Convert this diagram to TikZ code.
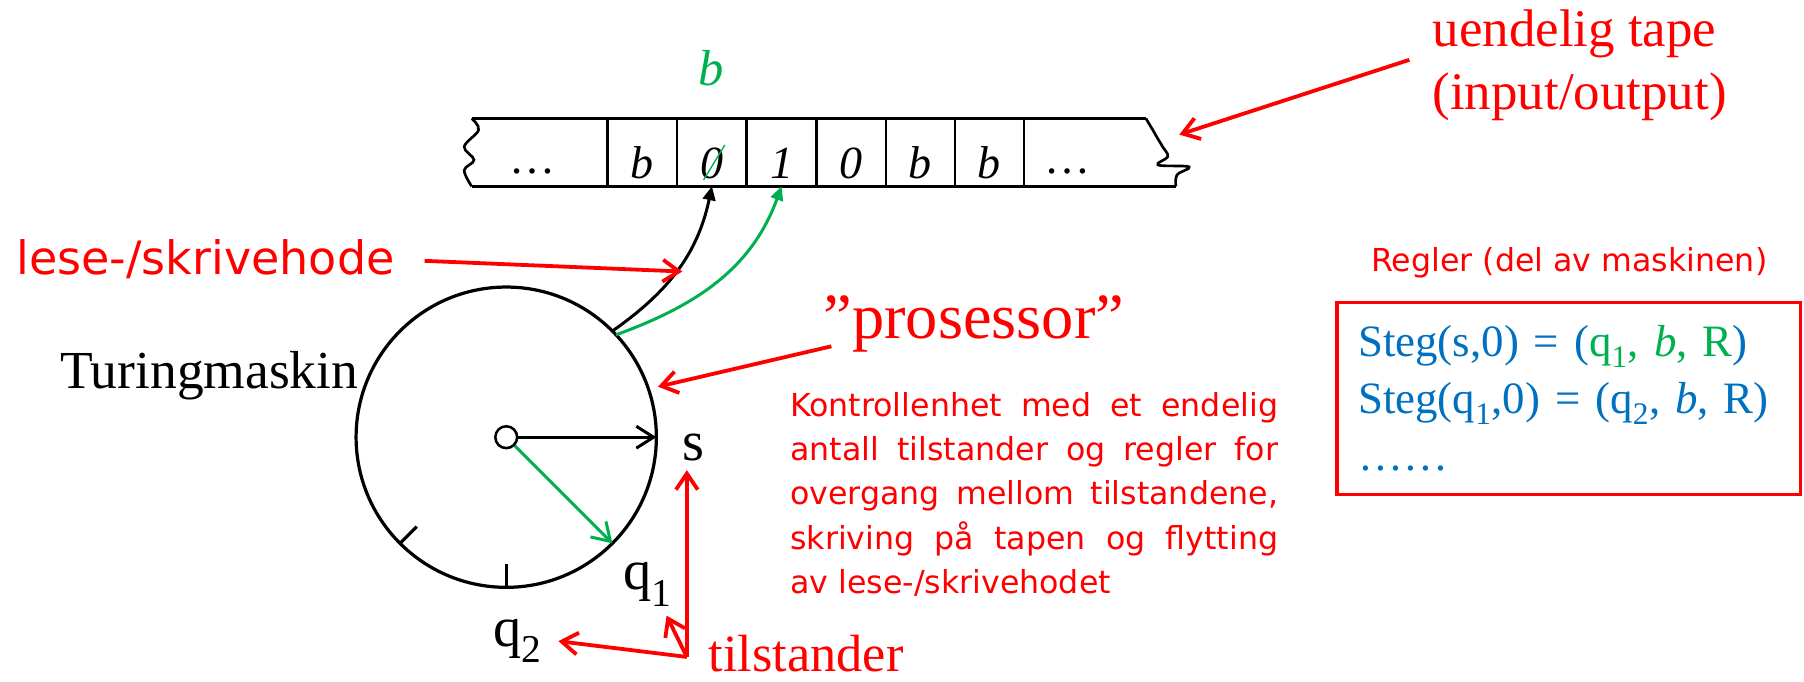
\documentclass[tikz,border=0pt]{standalone}
\usepackage{fontspec}
\setmainfont{Liberation Serif}
\newfontfamily\tahoma{DejaVu Sans}
\usetikzlibrary{arrows.meta}
\usetikzlibrary{calc}
\definecolor{pptred}{RGB}{255,0,0}
\definecolor{pptgreen}{RGB}{0,176,80}
\definecolor{pptblue}{RGB}{0,112,192}
\newcommand{\fsz}[2]{\fontsize{#1}{#2}\selectfont}

\begin{document}
\begin{tikzpicture}[x=1pt,y=1pt,
  lab/.style={inner sep=0pt},
  sym/.style={inner sep=0pt,anchor=base,font=\fsz{40}{48}},
  tapeline/.style={line width=2.3pt},
  redarr/.style={-{Straight Barb[length=14pt,width=19pt]},line width=3.3pt,pptred},
  radarr/.style={-{Straight Barb[length=15pt,width=19pt]},line width=2.6pt},
  curvarr/.style={-{Triangle[length=12pt,width=11pt]},line width=2.6pt}]
\useasboundingbox (0,0) rectangle (1568,592);
\def\tapetop{489};
\def\tapebot{430};
% draw tape
\draw[tapeline] (410,\tapetop) -- (996,\tapetop);
\draw[tapeline] (410,\tapebot) -- (1022,\tapebot);
\foreach \x in {528,588.5,649,709.5,770,830,890}
  \draw[tapeline] (\x,\tapetop) -- (\x,\tapebot);
% torn ends of the tape
\draw[tapeline] plot[smooth,tension=0.6] coordinates {(410,489) (416,479) (403.5,464.5) (412,453) (403.5,444) (410,430)};
\draw[tapeline] plot[smooth,tension=0.6] coordinates {(996,489) (1002,479) (1006,472) (1010.5,464.5) (1015,456) (1006.5,448.6) (1033.5,447) (1023,440) (1022,430)};
\coordinate (bot) at (0,\tapebot);
% symbols on the tape
\node[sym] (dl) at (463,441) {…};
\node[sym] (cb1) at (558.3,437) {\textit{b}};
\node[sym] (c0a) at (618.8,437) {\textit{0}};
\node[sym] (c1) at (679.3,437) {\textit{1}};
\node[sym] (c0b) at (739.8,437) {\textit{0}};
\node[sym] (cb2) at (800,437) {\textit{b}};
\node[sym] (cb3) at (860,437) {\textit{b}};
\node[sym] (dr) at (928,441) {…};
% overwritten symbol
\draw[pptgreen,line width=1.2pt] (611.5,435.5) -- (630,466);
\node[sym,font=\fsz{44}{48},text=pptgreen] (newb) at (618,518) {\textit{b}};
% draw machine circle
\node[draw,circle,minimum size=261pt,inner sep=0pt,outer sep=0pt,line width=2.8pt] (tm) at (440,212) {};
\draw[line width=2.8pt] (tm.-90) -- ($(tm.center)+(-90:110)$);
\draw[line width=2.8pt] (tm.-135) -- ($(tm.center)+(-135:110)$);
\node[draw,circle,minimum size=19pt,inner sep=0pt,line width=2.2pt] (hub) at (tm.center) {};
\draw[radarr] (hub.east) -- (tm.east);
\draw[radarr,pptgreen] (hub.-45) -- (tm.-45);
% draw read/write head
\draw[curvarr] (tm.45) to[out=35,in=-102] (c0a |- bot);
\draw[curvarr,pptgreen] (tm.43) to[out=20,in=-110] (c1 |- bot);
\coordinate (headpt) at (593,356);
% labels
\node[lab,anchor=base west,font=\fsz{46}{55},text=pptred,align=left] (tapelab) at (1245,496.4) {uendelig tape\\(input/output)};
\node[lab,anchor=base west,font=\tahoma\fsz{40}{48},text=pptred] (lese) at (14,353) {lese-/skrivehode};
\node[lab,anchor=base west,font=\fsz{46.5}{54}] (tmlab) at (52,254.5) {Turingmaskin};
\node[lab,anchor=base west,font=\fsz{56}{64},text=pptred] (pros) at (715.6,298) {”prosessor”};
\node[lab,anchor=north west,font=\tahoma\fsz{27.5}{38.5},text=pptred,align=left] (ctrl) at (686.7,251.3)
  {\makebox[424pt][s]{Kontrollenhet med et endelig}\\
   \makebox[424pt][s]{antall tilstander og regler for}\\
   \makebox[424pt][s]{overgang mellom tilstandene,}\\
   \makebox[424pt][s]{skriving på tapen og flytting}\\
   av lese-/skrivehodet};
\node[lab,anchor=base,font=\tahoma\fsz{27.5}{32},text=pptred] (reglab) at (1364,356) {Regler (del av maskinen)};
\node[draw=pptred,line width=3pt,inner xsep=18.5pt,inner ysep=0pt,text width=366pt,minimum height=167pt,
  align=left,text=pptblue,font=\fsz{39}{49.5}] (rules) at (1363.5,245.5)
  {Steg(s,0) = (\textcolor{pptgreen}{q\textsubscript{1}, \textit{b}, R})\\
   Steg(q\textsubscript{1},0) = (q\textsubscript{2}, \textit{b}, R)\\
   ……};
% states
\node[lab,anchor=base,font=\fsz{49}{56}] (s) at (602.5,192) {s};
\node[lab,anchor=base west,font=\fsz{49}{56}] (q1) at (541.8,79.2) {q\textsubscript{1}};
\node[lab,anchor=base west,font=\fsz{49}{56}] (q2) at (428.8,30) {q\textsubscript{2}};
\node[lab,anchor=base west,font=\fsz{45.5}{54},text=pptred] (til) at (615.7,8) {tilstander};
\coordinate (fork) at (597,21);
% red pointers
\draw[redarr] ([shift={(-20,43.6)}]tapelab.base west) -- (1025,475);
\draw[redarr,shorten <=26pt] (lese.east) -- (headpt);
\draw[redarr] ([shift={(7,-7)}]pros.base west) -- ($(tm.center)+(18.4:139)$);
\draw[redarr,shorten >=8pt] (fork) -- (fork |- s.south);
\draw[redarr] (fork) -- ([shift={(-5,-8)}]q1.south east);
\draw[redarr] (fork) -- ([xshift=14pt]q2.east);
\end{tikzpicture}
\end{document}
